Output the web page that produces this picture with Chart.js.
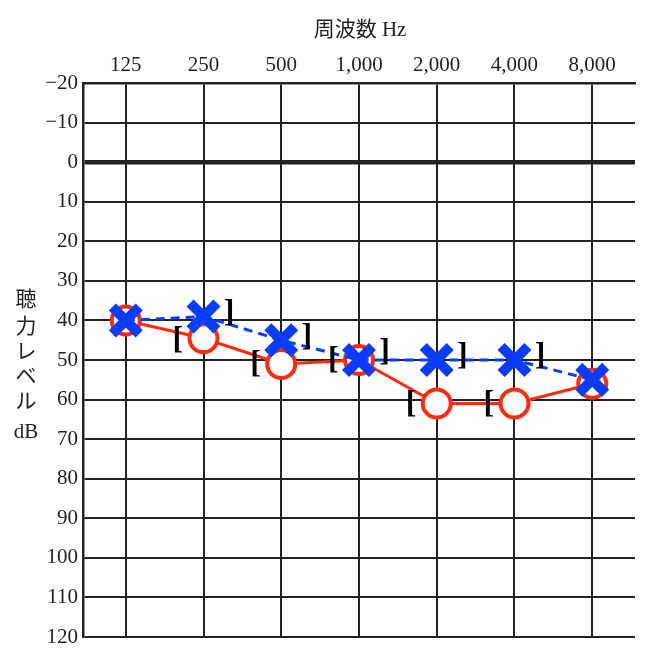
<!DOCTYPE html>
<html>
<head>
<meta charset="utf-8">
<script src="https://cdn.jsdelivr.net/npm/chart.js@4"></script>
<style>
  body { margin: 0; background: #fff; }
  #wrap { width: 664px; height: 666px; }
</style>
</head>
<body>
<div id="wrap"><canvas id="audiogram"></canvas></div>
<script>
const freqLabels = ['125', '250', '500', '1,000', '2,000', '4,000', '8,000']
const levelTicks = [-20, -10, 0, 10, 20, 30, 40, 50, 60, 70, 80, 90, 100, 110, 120]
const rightAir = [40, 44.5, 51, 50, 61, 61, 56]
const leftAir = [40, 39, 45, 50, 50, 50, 55]
const rightBone = [null, 45, 51, 50, 61, 61, null]
const leftBone = [null, 38, 44, 48, 49, 49, null]

const FONT = '"Liberation Serif", "Noto Sans CJK JP", serif'

const toPoints = (arr, shift) => arr.map((v, i) => ({ x: i + shift, y: v }))

const bracketPlugin = {
  id: 'brackets',
  afterDatasetsDraw(chart) {
    const { ctx, scales: { x, y } } = chart
    ctx.save()
    ctx.fillStyle = '#000'
    ctx.font = 'bold 32px ' + FONT
    ctx.textAlign = 'center'
    ctx.textBaseline = 'middle'
    rightBone.forEach((v, i) => {
      if (v != null) ctx.fillText('[', x.getPixelForValue(i - 0.33), y.getPixelForValue(v))
    })
    leftBone.forEach((v, i) => {
      if (v != null) ctx.fillText(']', x.getPixelForValue(i + 0.33), y.getPixelForValue(v))
    })
    ctx.restore()
  }
}

const titlePlugin = {
  id: 'titles',
  afterDraw(chart) {
    const { ctx } = chart
    ctx.save()
    ctx.fillStyle = '#222'
    ctx.font = '21px ' + FONT
    ctx.textAlign = 'center'
    ctx.textBaseline = 'middle'
    ctx.fillText('周波数 Hz', 360, 30)
    const chars = ['聴', '力', 'レ', 'ベ', 'ル', 'dB']
    const ys = [300, 327, 352, 377, 402, 432]
    chars.forEach((c, i) => ctx.fillText(c, 26, ys[i]))
    ctx.restore()
  }
}

new Chart(document.getElementById('audiogram'), {
  type: 'scatter',
  data: {
    datasets: [
      {
        label: 'right',
        order: 1,
        data: toPoints(rightAir, 0),
        showLine: true,
        borderColor: '#ff2a10',
        backgroundColor: '#fff',
        borderWidth: 3,
        pointStyle: 'circle',
        pointRadius: 14,
        pointBorderWidth: 4,
        pointBorderColor: '#ff2a10',
        pointBackgroundColor: '#fff'
      },
      {
        label: 'left',
        order: 0,
        data: toPoints(leftAir, 0),
        showLine: true,
        borderColor: '#0a3cff',
        borderWidth: 3,
        borderDash: [9, 6],
        pointStyle: 'crossRot',
        pointRadius: 19,
        pointBorderWidth: 10,
        pointBorderColor: '#0a3cff'
      }
    ]
  },
  options: {
    responsive: true,
    maintainAspectRatio: false,
    animation: false,
    layout: { padding: { left: 0, top: 0, right: 27, bottom: 25 } },
    plugins: { legend: { display: false }, tooltip: { enabled: false } },
    scales: {
      x: {
        type: 'linear',
        position: 'top',
        min: -0.55,
        max: 6.55,
        afterBuildTicks: (s) => { s.ticks = freqLabels.map((_, i) => ({ value: i })) },
        afterFit: (s) => { s.height = 83 },
        ticks: {
          color: '#222',
          font: { family: FONT, size: 21 },
          padding: 5,
          callback: (v) => freqLabels[v]
        },
        grid: { color: '#222', lineWidth: 2, drawTicks: false },
        border: { color: '#222', width: 2.5 }
      },
      y: {
        reverse: true,
        min: -20,
        max: 120,
        afterBuildTicks: (s) => { s.ticks = levelTicks.map((v) => ({ value: v })) },
        afterFit: (s) => { s.width = 83 },
        ticks: {
          color: '#222',
          font: { family: FONT, size: 21 },
          padding: 5,
          callback: (v) => (v < 0 ? '\u2212' + Math.abs(v) : String(v))
        },
        grid: {
          color: '#222',
          lineWidth: (c) => (c.tick && c.tick.value === 0 ? 4.5 : 2),
          drawTicks: false
        },
        border: { color: '#222', width: 2.5 }
      }
    }
  },
  plugins: [bracketPlugin, titlePlugin]
})
</script>
</body>
</html>
